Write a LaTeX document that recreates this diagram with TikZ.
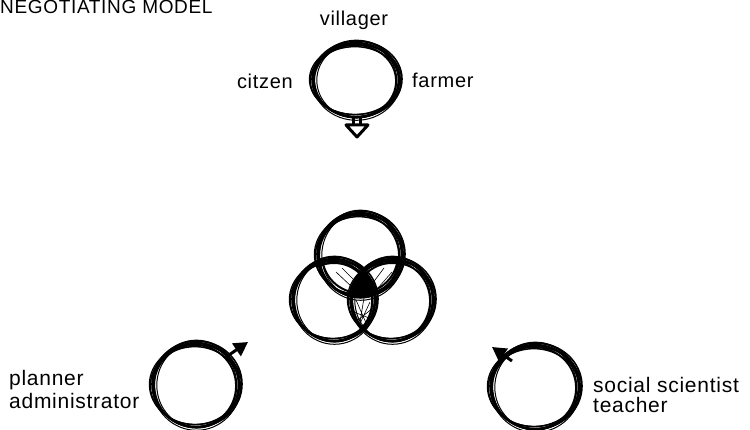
\documentclass[tikz,border=0pt]{standalone}
\usepackage{fontspec}
\setmainfont{Liberation Sans}[LetterSpace=3.5]
\usetikzlibrary{arrows.meta}

% a hand-drawn looking ring: several loose strokes round one centre
\newcommand\sketchring[4]{%
  \foreach \dx/\dy/\da/\db/\w in
    {0/0/0/0/2.4, 1/-1/2/1/1.6, -1/1/-2/-1/1.8, 0.5/0.8/1/2.5/1.0,
     -0.6/-0.5/3/-2/1.2, 0.8/0.3/-3/0.5/1.0, -1.2/0.6/1.5/-3/1.5,
     0.4/-0.9/-1/1.8/1.3}
    \draw[line width=\w pt] ({#1+\dx},{#2+\dy})
      ellipse [x radius={(#3+\da)*1pt}, y radius={(#4+\db)*1pt}];
}
% the plain outline of a ring, for clipping and filling
\newcommand\ringpath[4]{({#1},{#2}) ellipse [x radius={#3*1pt}, y radius={#4*1pt}]}

\begin{document}
\begin{tikzpicture}[x=1pt,y=-1pt,
  toplbl/.style={font=\fontsize{20}{24}\selectfont, inner sep=0pt},
  botlbl/.style={font=\fontsize{21}{25}\selectfont, inner sep=0pt},
  titlelbl/.style={font=\fontsize{19}{23}\selectfont, inner sep=0pt},
  pointer/.style={line width=3pt, -{Triangle[length=14pt,width=15pt]}},
  hatch/.style={line width=0.6pt}]
\useasboundingbox (0,0) rectangle (750,430);

% title
\node[titlelbl, anchor=base west] (title) at (0,13.5) {NEGOTIATING MODEL};

% ---- upper ring with its labels and a hollow arrow pointing down
\sketchring{356}{80}{43}{37}
\coordinate (topfoot) at (357,117);
\coordinate (topneck) at (357,125);
\draw[line width=2.2pt] ([xshift=-3.5pt]topfoot) -- ([xshift=-3.5pt]topneck)
                        ([xshift=3.5pt]topfoot) -- ([xshift=3.5pt]topneck);
\draw[line width=3pt, fill=white, line join=round]
  ([xshift=-11pt]topneck) -- ([xshift=11pt]topneck) -- ([yshift=-12pt]topneck) -- cycle;
\node[toplbl, anchor=base] (villager) at (354,25.5) {villager};
\node[toplbl, anchor=base east] (citzen) at (293,89) {citzen};
\node[toplbl, anchor=base west] (farmer) at (412,88) {farmer};

% ---- three interlocking rings in the middle
\begin{scope}
  \clip \ringpath{360}{255}{42}{42};
  \clip \ringpath{334}{300}{41}{41};
  \fill \ringpath{392}{300}{41}{41};
\end{scope}
% sketch lines inside the paired overlaps
\begin{scope}
  \clip \ringpath{360}{255}{42}{42};
  \clip \ringpath{334}{300}{41}{41};
  \draw[line width=2pt] \ringpath{360}{255}{38}{38};
  \draw[line width=2pt] \ringpath{334}{300}{37}{37};
  \draw[hatch] (336,272) -- (352,287) (342,268) -- (354,280);
\end{scope}
\begin{scope}
  \clip \ringpath{360}{255}{42}{42};
  \clip \ringpath{392}{300}{41}{41};
  \draw[line width=2pt] \ringpath{360}{255}{38}{38};
  \draw[line width=2pt] \ringpath{392}{300}{37}{37};
  \draw[hatch] (384,268) -- (372,284) (392,272) -- (378,288);
\end{scope}
\begin{scope}
  \clip \ringpath{334}{300}{41}{41};
  \clip \ringpath{392}{300}{41}{41};
  \draw[hatch] (356,300) -- (370,332) (364,298) -- (358,334) (370,302) -- (357,330)
               (354,312) -- (374,320) (353,324) -- (373,308);
\end{scope}
\sketchring{360}{255}{42}{42}
\sketchring{334}{300}{41}{41}
\sketchring{392}{300}{41}{41}

% ---- lower left ring, arrow to the upper right
\sketchring{196}{385}{43}{42}
\coordinate (leftbase) at (226,357);
\coordinate (lefttip) at (248,342);
\draw[pointer] (leftbase) -- (lefttip);
\node[botlbl, anchor=base west] (planner) at (9,385) {planner};
\node[botlbl, anchor=base west] (admin) at (9,409) {administrator};

% ---- lower right ring, arrow to the upper left
\sketchring{535}{387}{44}{42}
\coordinate (rightbase) at (512,361);
\coordinate (righttip) at (492,347);
\draw[pointer] (rightbase) -- (righttip);
\node[botlbl, anchor=base west] (social) at (593,392) {social scientist};
\node[botlbl, anchor=base west] (teacher) at (593,413) {teacher};
\end{tikzpicture}
\end{document}
